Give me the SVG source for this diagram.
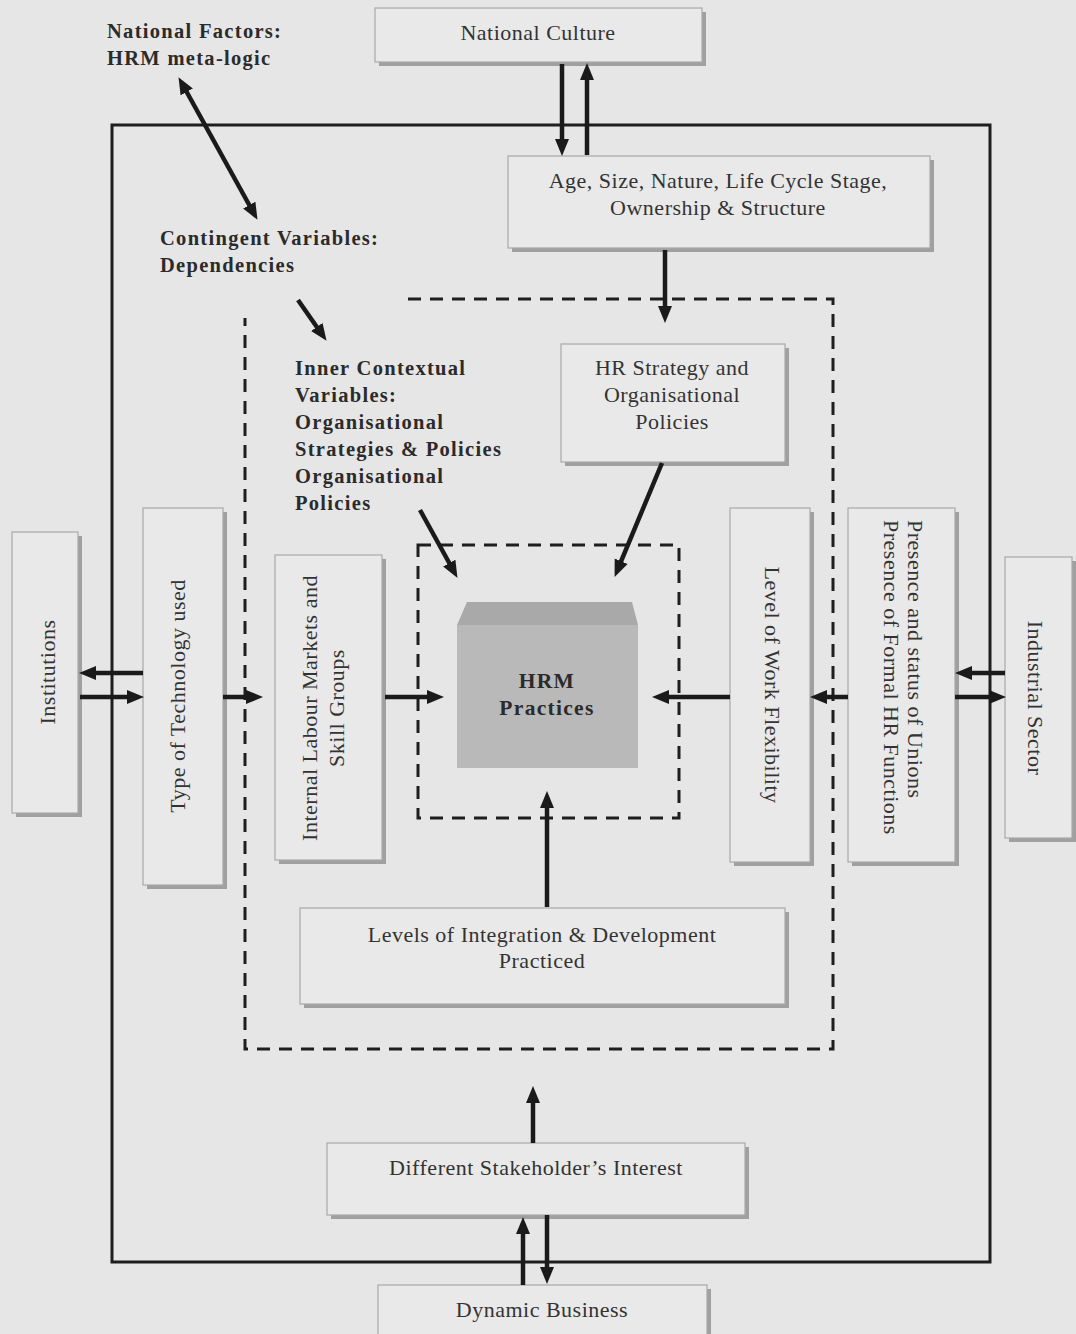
<svg xmlns="http://www.w3.org/2000/svg" width="1076" height="1334" viewBox="0 0 1076 1334">
  <style>
    .bg { fill:#e6e6e6; }
    .box { fill:#e9e9e9; stroke:#a9a9a9; stroke-width:1.2; }
    .shd { fill:#a0a0a0; }
    .txt { font-family:"Liberation Serif", "Times New Roman", serif; font-size:22px; letter-spacing:0.5px; fill:#333333; }
    .bld { font-family:"Liberation Serif", "Times New Roman", serif; font-size:20.5px; font-weight:bold; letter-spacing:1.3px; fill:#2b2b2b; }
    .mid { text-anchor:middle; }
    .frame { fill:none; stroke:#1e1e1e; stroke-width:3; }
    .dash { fill:none; stroke:#1e1e1e; stroke-width:3; stroke-dasharray:13 9; }
    .arr { fill:none; stroke:#1a1a1a; stroke-width:4.5; marker-end:url(#head); }
    .arr2 { marker-start:url(#head); }
  </style>
  <defs>
    <marker id="head" markerUnits="userSpaceOnUse" markerWidth="18" markerHeight="16" refX="4" refY="8" orient="auto-start-reverse">
      <path d="M0,1 L17,8 L0,15 Z" fill="#1a1a1a"/>
    </marker>
  </defs>

  <rect class="bg" x="0" y="0" width="1076" height="1334"/>

  <!-- outer solid boundary and dashed inner-context boundaries -->
  <g id="boundaries">
    <rect class="frame" x="112" y="125" width="878" height="1137"/>
    <path class="dash" d="M408,299 H833 V1049 H245 V318"/>
    <rect class="dash" x="418" y="545" width="261" height="273"/>
  </g>

  <g id="national-factors">
    <text class="bld" x="107" y="38">National Factors:</text>
    <text class="bld" x="107" y="65">HRM meta-logic</text>
  </g>
  <g id="contingent-variables">
    <text class="bld" x="160" y="245">Contingent Variables:</text>
    <text class="bld" x="160" y="272">Dependencies</text>
  </g>
  <g id="inner-contextual">
    <text class="bld" x="295" y="375">Inner Contextual</text>
    <text class="bld" x="295" y="402">Variables:</text>
    <text class="bld" x="295" y="429">Organisational</text>
    <text class="bld" x="295" y="456">Strategies &amp; Policies</text>
    <text class="bld" x="295" y="483">Organisational</text>
    <text class="bld" x="295" y="510">Policies</text>
  </g>

  <g id="national-culture">
    <rect class="shd" x="379" y="12" width="327" height="54"/>
    <rect class="box" x="375" y="8" width="327" height="54"/>
    <text class="txt mid" x="538" y="40">National Culture</text>
  </g>

  <g id="organisation-profile">
    <rect class="shd" x="512" y="160" width="422" height="92"/>
    <rect class="box" x="508" y="156" width="422" height="92"/>
    <text class="txt mid" x="718" y="188">Age, Size, Nature, Life Cycle Stage,</text>
    <text class="txt mid" x="718" y="215">Ownership &amp; Structure</text>
  </g>

  <g id="hr-strategy">
    <rect class="shd" x="565" y="348" width="224" height="118"/>
    <rect class="box" x="561" y="344" width="224" height="118"/>
    <text class="txt mid" x="672" y="375">HR Strategy and</text>
    <text class="txt mid" x="672" y="402">Organisational</text>
    <text class="txt mid" x="672" y="429">Policies</text>
  </g>

  <g id="hrm-practices">
    <rect x="457" y="625" width="181" height="143" fill="#b9b9b9"/>
    <path d="M457,625 L467,602 L632,602 L638,625 Z" fill="#a9a9a9"/>
    <text class="bld mid" x="547" y="688" style="font-size:21.5px">HRM</text>
    <text class="bld mid" x="547" y="715" style="font-size:21.5px">Practices</text>
  </g>

  <g id="institutions">
    <rect class="shd" x="16" y="536" width="66" height="281"/>
    <rect class="box" x="12" y="532" width="66" height="281"/>
    <text class="txt mid" transform="translate(55,672) rotate(-90)">Institutions</text>
  </g>

  <g id="technology">
    <rect class="shd" x="147" y="512" width="80" height="377"/>
    <rect class="box" x="143" y="508" width="80" height="377"/>
    <text class="txt mid" transform="translate(185,696) rotate(-90)">Type of Technology used</text>
  </g>

  <g id="labour-markets">
    <rect class="shd" x="279" y="559" width="107" height="305"/>
    <rect class="box" x="275" y="555" width="107" height="305"/>
    <text class="txt mid" transform="translate(317,708) rotate(-90)">Internal Labour Markets and</text>
    <text class="txt mid" transform="translate(344,708) rotate(-90)">Skill Groups</text>
  </g>

  <g id="work-flexibility">
    <rect class="shd" x="734" y="512" width="80" height="354"/>
    <rect class="box" x="730" y="508" width="80" height="354"/>
    <text class="txt mid" transform="translate(765,685) rotate(90)">Level of Work Flexibility</text>
  </g>

  <g id="unions-hr-functions">
    <rect class="shd" x="852" y="512" width="107" height="354"/>
    <rect class="box" x="848" y="508" width="107" height="354"/>
    <text class="txt" transform="translate(908,520) rotate(90)">Presence and status of Unions</text>
    <text class="txt" transform="translate(884,520) rotate(90)">Presence of Formal HR Functions</text>
  </g>

  <g id="industrial-sector">
    <rect class="shd" x="1009" y="561" width="67" height="281"/>
    <rect class="box" x="1005" y="557" width="67" height="281"/>
    <text class="txt mid" transform="translate(1028,698) rotate(90)">Industrial Sector</text>
  </g>

  <g id="integration-development">
    <rect class="shd" x="304" y="912" width="485" height="96"/>
    <rect class="box" x="300" y="908" width="485" height="96"/>
    <text class="txt mid" x="542" y="942">Levels of Integration &amp; Development</text>
    <text class="txt mid" x="542" y="968">Practiced</text>
  </g>

  <g id="stakeholders">
    <rect class="shd" x="331" y="1147" width="418" height="72"/>
    <rect class="box" x="327" y="1143" width="418" height="72"/>
    <text class="txt mid" x="536" y="1175">Different Stakeholder’s Interest</text>
  </g>

  <g id="dynamic-business">
    <rect class="shd" x="382" y="1289" width="329" height="60"/>
    <rect class="box" x="378" y="1285" width="329" height="60"/>
    <text class="txt mid" x="542" y="1317">Dynamic Business</text>
  </g>

  <g id="connectors">
    <path class="arr" d="M562,64 L562,143"/>
    <path class="arr" d="M587,155 L587,76"/>
    <path class="arr" d="M665,250 L665,310"/>
    <path class="arr arr2" d="M184.8,88.5 L251.2,208.5"/>
    <path class="arr" d="M298,300 L319.1,330.2"/>
    <path class="arr" d="M420,510 L451.2,566.5"/>
    <path class="arr" d="M662,463 L619.6,564.9"/>
    <path class="arr" d="M143,673 L92,673"/>
    <path class="arr" d="M80,697 L131,697"/>
    <path class="arr" d="M223,697 L250,697"/>
    <path class="arr" d="M385,697 L431,697"/>
    <path class="arr" d="M730,697 L665,697"/>
    <path class="arr" d="M848,697 L823,697"/>
    <path class="arr" d="M1005,673 L968,673"/>
    <path class="arr" d="M955,697 L993,697"/>
    <path class="arr" d="M547,907 L547,804"/>
    <path class="arr" d="M533,1143 L533,1099"/>
    <path class="arr" d="M523,1285 L523,1230"/>
    <path class="arr" d="M547,1215 L547,1271"/>
  </g>
</svg>
